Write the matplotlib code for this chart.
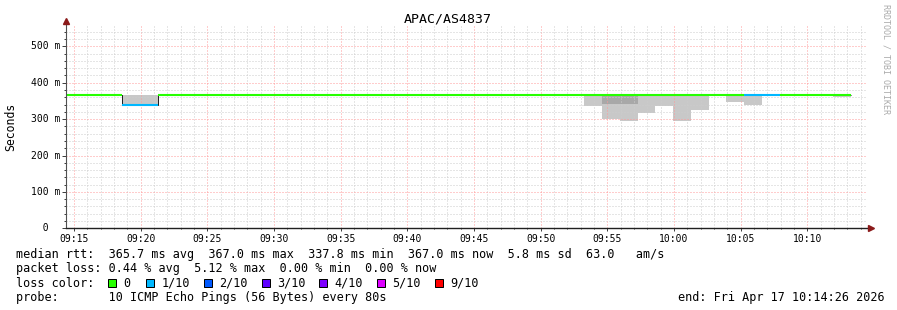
import matplotlib
matplotlib.use("Agg")
import matplotlib.pyplot as plt
import matplotlib.dates as mdates
import numpy as np
import pandas as pd
from matplotlib.patches import Rectangle
from matplotlib.transforms import blended_transform_factory

W, H = 897, 310
MONO = "DejaVu Sans Mono"
plt.rcParams["font.family"] = MONO
plt.rcParams["lines.scale_dashes"] = False

# probe steps (80 s), each value is valid for the interval that ends at the next edge
edges = pd.date_range("2026-04-17 09:13:16", periods=46, freq="80s")

# median rtt per step (ms)
median = np.array([367.0] * 45)
median[4] = 337.8
median[5] = 337.8

# lost pings out of 10 per step
loss = np.zeros(45, dtype=int)
loss[[4, 5, 39, 40]] = 1

# smoke (spread of the single pings), ms
smoke_idx = [4, 5, 30, 31, 32, 33, 34, 35, 36, 38, 39, 44]
smoke_hi = [365, 365, 365, 365, 365, 365, 365, 365, 365, 365, 365, 365]
smoke_lo = [338, 338, 337, 300, 296, 318, 337, 296, 325, 348, 340, 362]
dark_idx = [31, 32]
dark_hi = [365, 365]
dark_lo = [341, 341]

loss_labels = ["0", "1/10", "2/10", "3/10", "4/10", "5/10", "9/10"]
loss_colors = ["#26ff00", "#00b8ff", "#0059ff", "#5e00ff", "#7e00ff", "#dd00ff", "#ff0000"]
loss_steps = [0, 1, 2, 3, 4, 5, 9]
color_of = dict(zip(loss_steps, loss_colors))

yticks = [0, 100, 200, 300, 400, 500]
t_start = pd.Timestamp("2026-04-17 09:14:26")
t_end = pd.Timestamp("2026-04-17 10:14:26")

title = "APAC/AS4837"
stats_rtt = "median rtt:  365.7 ms avg  367.0 ms max  337.8 ms min  367.0 ms now  5.8 ms sd  63.0   am/s"
stats_loss = "packet loss: 0.44 % avg  5.12 % max  0.00 % min  0.00 % now"
probe = "probe:       10 ICMP Echo Pings (56 Bytes) every 80s"
end_txt = "end: Fri Apr 17 10:14:26 2026"

fig = plt.figure(figsize=(W / 100, H / 100), dpi=100)
fig.patch.set_facecolor("white")


def fx(x):
    return x / W


def fy(y):
    return 1 - y / H


ax = fig.add_axes([fx(66.4), fy(228.3), 800 / W, 202.3 / H])
ax.set_facecolor("white")

xe = mdates.date2num(edges)
step_w = xe[1] - xe[0]

# smoke
ax.bar(xe[smoke_idx], np.array(smoke_hi) - np.array(smoke_lo), width=step_w,
       bottom=smoke_lo, align="edge", color="#c8c8c8", linewidth=0, zorder=1)
ax.bar(xe[dark_idx], np.array(dark_hi) - np.array(dark_lo), width=step_w,
       bottom=dark_lo, align="edge", color="#a8a8a8", linewidth=0, zorder=1.1)

# thin dark median, then coloured by loss
ax.stairs(median, xe, baseline=None, color="#202020", linewidth=0.72, zorder=3)
ax.hlines(median, xe[:-1], xe[1:], colors=[color_of[l] for l in loss],
          linewidth=1.5, zorder=3.5, capstyle="butt")

ax.set_xlim(mdates.date2num(t_start), mdates.date2num(t_end))
ax.set_ylim(0, 556)

ax.xaxis.set_major_locator(mdates.MinuteLocator(byminute=range(0, 60, 5)))
ax.xaxis.set_minor_locator(mdates.MinuteLocator())
ax.xaxis.set_major_formatter(mdates.DateFormatter("%H:%M"))
ax.set_yticks(yticks)
ax.set_yticks(np.arange(20, 556, 20), minor=True)

ax.set_axisbelow(False)
ax.grid(True, which="minor", color="#cccccc", linewidth=0.72, linestyle=(0, (0.72, 1.44)))
ax.grid(True, which="major", color="#ff9a9a", linewidth=0.72, linestyle=(0, (0.72, 1.44)))

for s in ax.spines.values():
    s.set_visible(False)

ax.tick_params(axis="x", which="major", length=2, width=0.72, pad=2, labelsize=7, color="#404040")
ax.tick_params(axis="x", which="minor", length=1, width=0.72, color="#404040")
ax.tick_params(axis="y", which="major", length=3, width=0.72, color="#404040", labelleft=False)
ax.tick_params(axis="y", which="minor", length=1.2, width=0.72, color="#404040")

ytr = blended_transform_factory(ax.transAxes, ax.transData)
for v in yticks:
    lab = "  0" if v == 0 else f"{v:3d} m"
    ax.text(-(66.4 - 31) / 800, v, lab, transform=ytr, ha="left", va="center",
            fontsize=7, family=MONO)

# axes and arrows
ax.plot([0, 0], [0, 1 + 2 / 202.3], color="#505050", lw=0.8, transform=ax.transAxes, clip_on=False, zorder=5)
ax.plot([0, 1 + 4 / 800], [0, 0], color="#202020", lw=1.0, transform=ax.transAxes, clip_on=False, zorder=5)
ax.plot([0], [1 + 5 / 202.3], marker="^", ms=4, color="#8b1a1a", transform=ax.transAxes, clip_on=False, zorder=6)
ax.plot([1 + 5 / 800], [0], marker=">", ms=4, color="#8b1a1a", transform=ax.transAxes, clip_on=False, zorder=6)

# texts
fig.text(fx(448), fy(19), title, ha="center", va="center", fontsize=9.5)
fig.text(fx(11), fy(127), "Seconds", rotation=90, ha="center", va="center", fontsize=8.3)
fig.text(fx(886), fy(4), "RRDTOOL / TOBI OETIKER", rotation=270, ha="center", va="top",
         fontsize=6, color="#aaaaaa")

fs = 8.5
fig.text(fx(16), fy(254.8), stats_rtt, ha="left", va="center", fontsize=fs)
fig.text(fx(16), fy(268.8), stats_loss, ha="left", va="center", fontsize=fs)
fig.text(fx(16), fy(283.2), "loss color:", ha="left", va="center", fontsize=fs)
fig.text(fx(16), fy(297.2), probe, ha="left", va="center", fontsize=fs)
fig.text(fx(678), fy(297.2), end_txt, ha="left", va="center", fontsize=fs)

box_x = [108, 146, 203.7, 261.7, 319, 377, 435]
for bx, lab, col in zip(box_x, loss_labels, loss_colors):
    fig.patches.append(Rectangle((fx(bx), fy(287)), 8 / W, 8 / H, transform=fig.transFigure,
                                 facecolor=col, edgecolor="black", linewidth=0.72))
    fig.text(fx(bx + 15.5), fy(283.2), lab, ha="left", va="center", fontsize=fs)

fig.savefig("out.png", dpi=100)
